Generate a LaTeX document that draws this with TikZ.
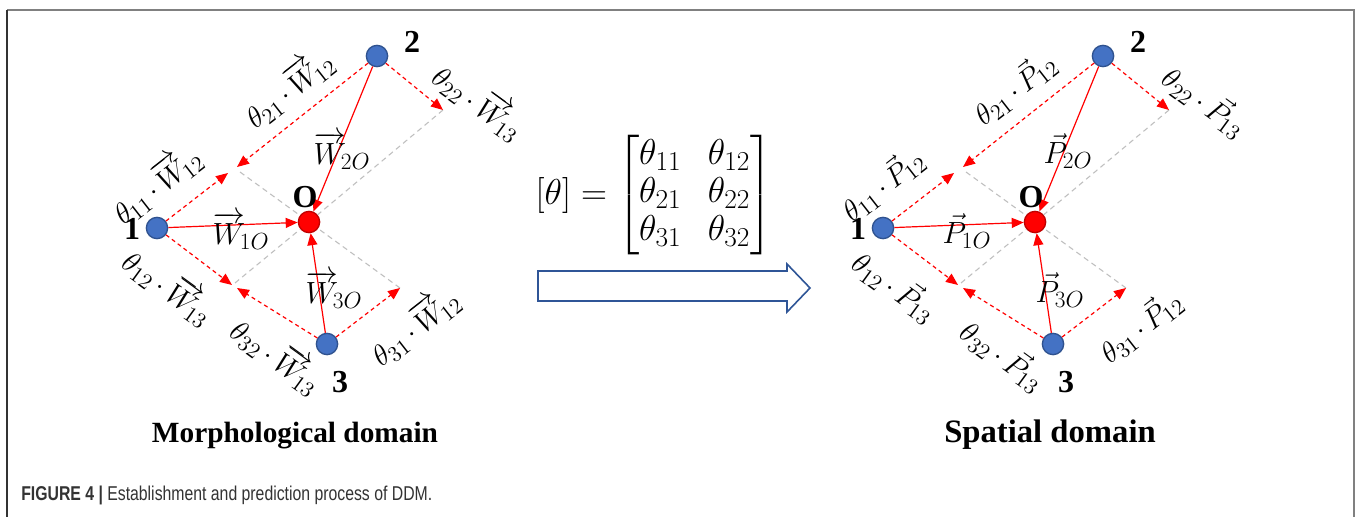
\RequirePackage{fix-cm}
\documentclass[tikz,border=0pt]{standalone}
\usepackage{amsmath}
\usepackage{graphicx}
\usepackage{fontspec}
\setmainfont{Liberation Serif}
\newfontfamily\capfont{Liberation Sans}
\usetikzlibrary{arrows.meta}
\def\defaultscriptratio{.76}
\definecolor{nodeblue}{HTML}{4472C4}
\definecolor{nodeblueb}{HTML}{2F528F}
\definecolor{ored}{HTML}{FF0000}
\definecolor{oredb}{HTML}{C00000}
\definecolor{gline}{HTML}{BFBFBF}
\definecolor{arrowblue}{HTML}{2F5597}
\definecolor{framegray}{HTML}{808080}
\definecolor{capgray}{HTML}{333333}
\newcommand{\Wv}{\overrightarrow{W}\!}
\newcommand{\Pv}{\vec{P}}
\newcommand{\dotop}{\mkern3mu{\cdot}\mkern3mu}
\newcommand{\ddmdomain}[2]{%
  \node[bpt] (#1one) at (157,228) {};
  \node[bpt] (#1two) at (377,56) {};
  \node[bpt] (#1three) at (327,344) {};
  \node[opt] (#1O) at (309,222) {};
  \coordinate (#1a1) at (228,173);
  \coordinate (#1a2) at (237,167);
  \coordinate (#1ag) at (240,172);
  \coordinate (#1b) at (443,110);
  \coordinate (#1c1) at (232,285);
  \coordinate (#1c3) at (237,288);
  \coordinate (#1cg) at (235,283);
  \coordinate (#1d) at (400,288);
  \draw[gdash] (#1ag) -- (#1O);
  \draw[gdash] (#1b) -- (#1O);
  \draw[gdash] (#1cg) -- (#1O);
  \draw[gdash] (#1d) -- (#1O);
  \draw[dasharr] (#1one) -- (#1a1);
  \draw[dasharr] (#1two) -- (#1a2);
  \draw[dasharr] (#1two) -- (#1b);
  \draw[dasharr] (#1one) -- (#1c1);
  \draw[dasharr] (#1three) -- (#1c3);
  \draw[dasharr] (#1three) -- (#1d);
  \draw[solidarr] (#1one) -- (#1O);
  \draw[solidarr] (#1two) -- (#1O);
  \draw[solidarr] (#1three) -- (#1O);
  \node[num] (#1lone) at (132,229) {1};
  \node[num] (#1ltwo) at (412,42) {2};
  \node[num] (#1lthree) at (340,382) {3};
  \node[num] (#1lO) at (305,197) {O};
  \node[lab, rotate=38] (#1t21) at (288,88) {$\theta_{21}\dotop #2_{12}$};
  \node[lab, rotate=38] (#1t11) at (156,184) {$\theta_{11}\dotop #2_{12}$};
  \node[lab, rotate=-36] (#1t22) at (479,101) {$\theta_{22}\dotop #2_{13}$};
  \node[lab, rotate=-36] (#1t12) at (169,286) {$\theta_{12}\dotop #2_{13}$};
  \node[lab, rotate=-36] (#1t32) at (277,355) {$\theta_{32}\dotop #2_{13}$};
  \node[lab, rotate=38] (#1t31) at (414,326) {$\theta_{31}\dotop #2_{12}$};
  \node[vlab] (#1v2) at (342,151) {$#2_{2O}$};
  \node[vlab] (#1v1) at (241,231) {$#2_{1O}$};
  \node[vlab] (#1v3) at (334,290) {$#2_{3O}$};
}
\begin{document}
\begin{tikzpicture}[x=0.75pt,y=-0.75pt,
  bpt/.style={circle, fill=nodeblue, draw=nodeblueb, line width=1pt, minimum size=16pt, inner sep=0pt},
  opt/.style={circle, fill=ored, draw=oredb, line width=1pt, minimum size=16pt, inner sep=0pt},
  solidarr/.style={draw=ored, line width=0.9pt, -{Triangle[length=9pt,width=7.5pt]}},
  dasharr/.style={draw=ored, line width=0.9pt, dash pattern=on 3pt off 2.5pt, -{Triangle[length=9pt,width=7.5pt]}},
  gdash/.style={draw=gline, line width=0.8pt, dash pattern=on 4pt off 3pt},
  lab/.style={font=\fontsize{22}{26}\selectfont, inner sep=0pt},
  vlab/.style={font=\fontsize{23}{27}\selectfont, inner sep=0pt},
  num/.style={font=\fontsize{24}{28}\selectfont\bfseries, inner sep=0pt},
  title/.style={font=\fontsize{22}{26}\selectfont\bfseries, inner sep=0pt}]
\useasboundingbox (0,0) rectangle (1359,517);
\fill[white] (0,0) rectangle (1359,517);
\draw[framegray, line width=1.2pt] (1354,517) -- (1354,10) -- (7,10);
\draw[black!80, line width=1.2pt] (7,10) -- (7,517);
\ddmdomain{L}{\Wv}
\begin{scope}[shift={(726,0)}]
\ddmdomain{R}{\Pv}
\end{scope}
\node[font=\fontsize{27}{28.5}\selectfont, inner sep=0pt] (mat) at (654,195)
  {\setlength{\arraycolsep}{10pt}$[\theta] = \begin{bmatrix}\theta_{11} & \theta_{12}\\ \theta_{21} & \theta_{22}\\ \theta_{31} & \theta_{32}\end{bmatrix}$};
\draw[arrowblue, line width=1.2pt, fill=white] (538,271) -- (787,271) -- (787,264) -- (810,288) -- (787,312) -- (787,301) -- (538,301) -- cycle;
\node[title] (t1) at (295,436) {Morphological domain};
\node[title, font=\fontsize{24.5}{28}\selectfont\bfseries] (t2) at (1050,435) {Spatial domain};
\node[anchor=base west, inner sep=0pt, text=capgray, font=\capfont\fontsize{15}{18}\selectfont] (cap) at (21,500)
  {\scalebox{0.79}[1]{\textbf{FIGURE 4 |} Establishment and prediction process of DDM.}};
\end{tikzpicture}
\end{document}
